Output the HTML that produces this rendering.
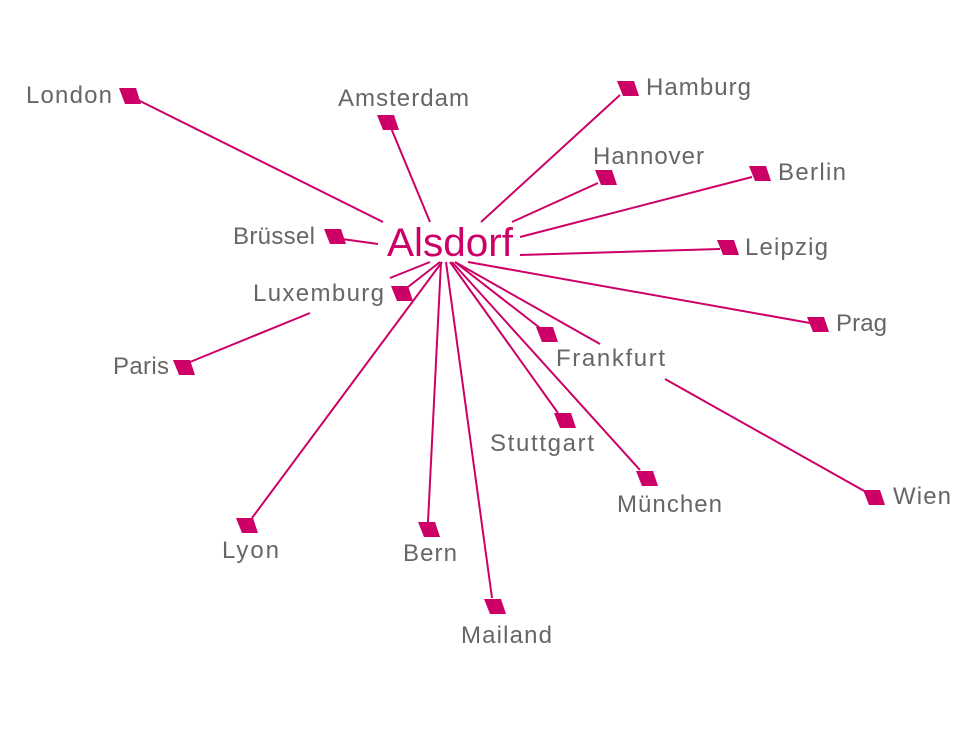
<!DOCTYPE html>
<html><head><meta charset="utf-8"><style>
html,body{margin:0;padding:0;background:#fff;}
svg{display:block}
.l{font-family:"Liberation Sans",sans-serif;font-size:24px;fill:#666;}
</style></head><body>
<svg width="976" height="730" viewBox="0 0 976 730" xmlns="http://www.w3.org/2000/svg">
<g stroke="#cc0066" stroke-width="2" fill="none">
<line x1="136" y1="99" x2="383" y2="222"/>
<line x1="391" y1="128" x2="430" y2="222"/>
<line x1="620" y1="95" x2="481" y2="222"/>
<line x1="598" y1="183" x2="512" y2="222"/>
<line x1="752" y1="177" x2="520" y2="237"/>
<line x1="720" y1="249" x2="520" y2="255"/>
<line x1="810" y1="323" x2="468" y2="262"/>
<line x1="455" y1="262" x2="600" y2="344"/>
<line x1="665" y1="379" x2="866" y2="492"/>
<line x1="455" y1="262" x2="540" y2="328"/>
<line x1="450" y1="262" x2="558" y2="413"/>
<line x1="452" y1="262" x2="640" y2="470"/>
<line x1="446" y1="262" x2="492" y2="598"/>
<line x1="441" y1="262" x2="428" y2="522"/>
<line x1="442" y1="262" x2="252" y2="518"/>
<line x1="440" y1="262" x2="408" y2="287"/>
<line x1="430" y1="262" x2="390" y2="278"/>
<line x1="310" y1="313" x2="190" y2="362"/>
<line x1="342" y1="239" x2="378" y2="244"/>
</g>
<g fill="#cc0066">
<polygon points="119,88 136,88 141,104 125,104"/>
<polygon points="377,115 394,115 399,130 383,130"/>
<polygon points="617,81 634,81 639,96 623,96"/>
<polygon points="595,170 612,170 617,185 601,185"/>
<polygon points="749,166 766,166 771,181 755,181"/>
<polygon points="717,240 734,240 739,255 723,255"/>
<polygon points="807,317 824,317 829,332 813,332"/>
<polygon points="536,327 553,327 558,342 542,342"/>
<polygon points="863,490 880,490 885,505 869,505"/>
<polygon points="554,413 571,413 576,428 560,428"/>
<polygon points="636,471 653,471 658,486 642,486"/>
<polygon points="484,599 501,599 506,614 490,614"/>
<polygon points="418,522 435,522 440,537 424,537"/>
<polygon points="236,518 253,518 258,533 242,533"/>
<polygon points="391,286 408,286 413,301 397,301"/>
<polygon points="173,360 190,360 195,375 179,375"/>
<polygon points="324,229 341,229 346,244 330,244"/>
</g>
<text x="387" y="256" font-family="Liberation Sans,sans-serif" font-size="40" fill="#cc0066" textLength="126" lengthAdjust="spacingAndGlyphs">Alsdorf</text>
<g class="l">
<text x="26" y="103" textLength="86">London</text>
<text x="338" y="106" textLength="131">Amsterdam</text>
<text x="646" y="95" textLength="105">Hamburg</text>
<text x="593" y="164" textLength="111">Hannover</text>
<text x="778" y="180" textLength="68">Berlin</text>
<text x="745" y="255" textLength="83">Leipzig</text>
<text x="836" y="331" textLength="51">Prag</text>
<text x="556" y="366" textLength="109">Frankfurt</text>
<text x="893" y="504" textLength="58">Wien</text>
<text x="617" y="512" textLength="105">München</text>
<text x="490" y="451" textLength="104">Stuttgart</text>
<text x="461" y="643" textLength="91">Mailand</text>
<text x="403" y="561" textLength="54">Bern</text>
<text x="222" y="558" textLength="57">Lyon</text>
<text x="113" y="374" textLength="56">Paris</text>
<text x="253" y="301" textLength="131">Luxemburg</text>
<text x="233" y="244" textLength="82">Brüssel</text>
</g>
</svg>
</body></html>
